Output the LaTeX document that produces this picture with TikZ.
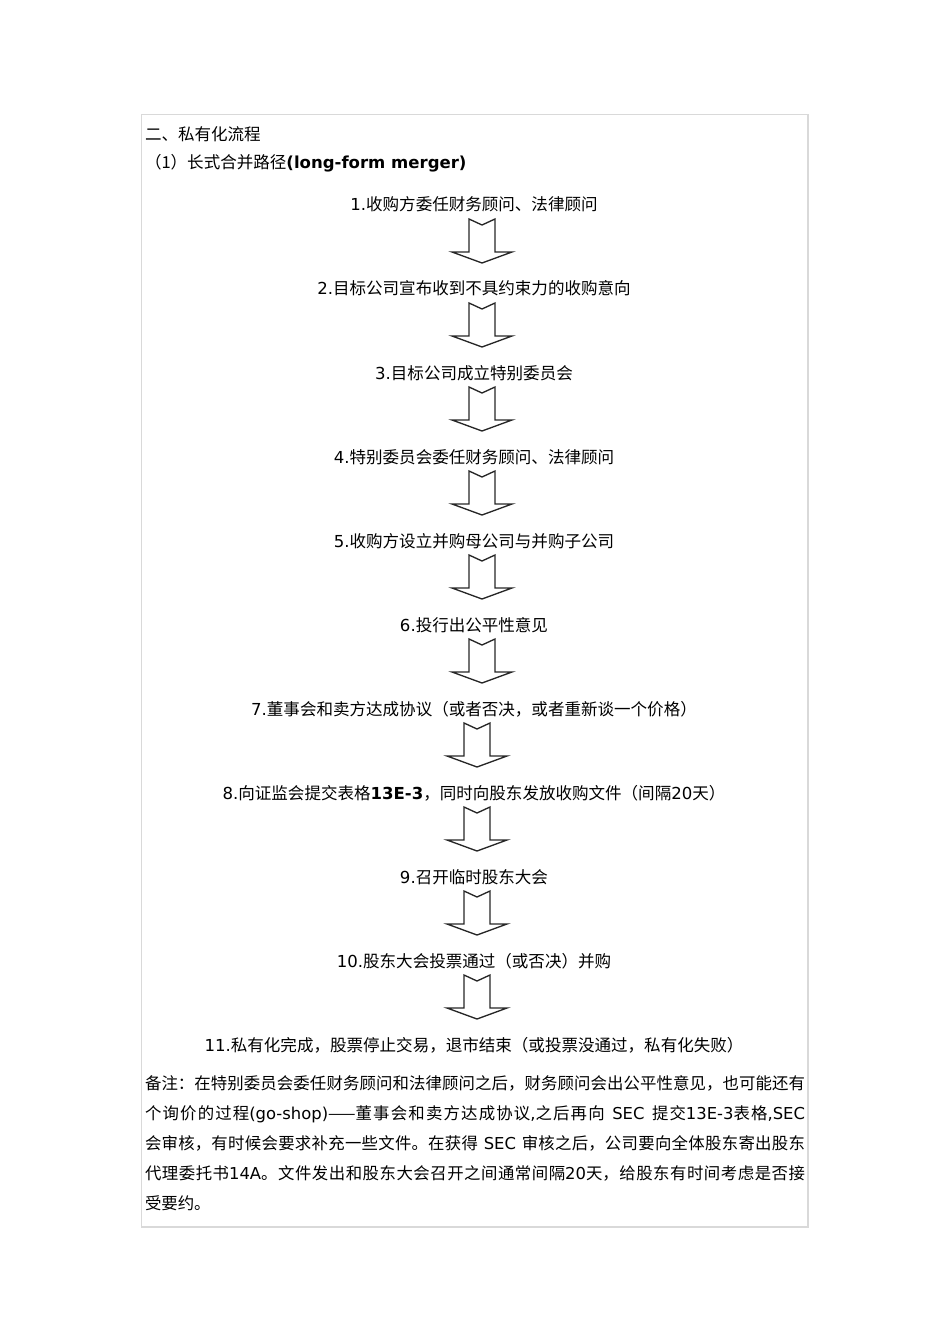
\documentclass[tikz,border=0pt]{standalone}
\usepackage{fontspec}
\setmainfont{Noto Sans CJK SC}
\newfontfamily\vd{DejaVu Sans}
\usetikzlibrary{positioning,calc}
\definecolor{FrameGray}{HTML}{D9D9D9}
\definecolor{ArrowGray}{HTML}{262626}
\newcommand{\lat}[1]{{\vd #1}}
\XeTeXlinebreaklocale "zh"
\XeTeXlinebreakskip=0pt plus 1pt
\tikzset{hollowdown/.pic={
  \draw[arrowline] (-13,-22) -- (0,-16) -- (13,-22) -- (13,11) -- (30,11)
    -- (0,22) -- (-30,11) -- (-13,11) -- cycle;
}}

\begin{document}
\begin{tikzpicture}[x=0.75pt,y=-0.75pt, node distance=48pt, every node/.style={font=\fontsize{12.4}{22.5}\selectfont,inner sep=0pt,outer sep=0pt}, stepbox/.style={text height=12pt,text depth=3pt}, headline/.style={anchor=west}, arrowline/.style={draw=ArrowGray,line width=1pt,line join=miter}]
\useasboundingbox (0,0) rectangle (950,1344);
\draw[FrameGray,line width=0.8pt] (141.5,114.5) rectangle (808,1227);
% headings
\node[headline] (h1) at (145,134) {二、私有化流程};
\node[headline] (h2) at (145,163) {（1）长式合并路径{\vd\bfseries(long-form merger)}};
% steps
\node[stepbox] (s1) at (474,205) {\lat{1.}收购方委任财务顾问、法律顾问};
\node[stepbox,below=of s1] (s2) {\lat{2.}目标公司宣布收到不具约束力的收购意向};
\node[stepbox,below=of s2] (s3) {\lat{3.}目标公司成立特别委员会};
\node[stepbox,below=of s3] (s4) {\lat{4.}特别委员会委任财务顾问、法律顾问};
\node[stepbox,below=of s4] (s5) {\lat{5.}收购方设立并购母公司与并购子公司};
\node[stepbox,below=of s5] (s6) {\lat{6.}投行出公平性意见};
\node[stepbox,below=of s6] (s7) {\lat{7.}董事会和卖方达成协议（或者否决，或者重新谈一个价格）};
\node[stepbox,below=of s7] (s8) {\lat{8.}向证监会提交表格{\vd\bfseries 13E-3}，同时向股东发放收购文件（间隔\lat{20}天）};
\node[stepbox,below=of s8] (s9) {\lat{9.}召开临时股东大会};
\node[stepbox,below=of s9] (s10) {\lat{10.}股东大会投票通过（或否决）并购};
\node[stepbox,below=of s10] (s11) {\lat{11.}私有化完成，股票停止交易，退市结束（或投票没通过，私有化失败）};
% hollow arrows
\foreach \i/\j/\dx in {1/2/8,2/3/8,3/4/8,4/5/8,5/6/8,6/7/8,7/8/3,8/9/3,9/10/3,10/11/3}
  \path ($(s\i)!0.5!(s\j)$) ++(\dx,-6) pic{hollowdown};
% remark
\node[anchor=north west,text width=495pt,align=justify,font=\fontsize{12.3}{22.5}\selectfont] (note) at (145,1076) {\parindent=0pt\noindent 备注：在特别委员会委任财务顾问和法律顾问之后，财务顾问会出公平性意见，也可能还有\linebreak
个询价的过程\lat{(go-shop)}——董事会和卖方达成协议\lat{,}之后再向\lat{ SEC }提交\lat{13E-3}表格\lat{,SEC}\linebreak
会审核，有时候会要求补充一些文件。在获得\lat{ SEC }审核之后，公司要向全体股东寄出股东\linebreak
代理委托书\lat{14A}。文件发出和股东大会召开之间通常间隔\lat{20}天，给股东有时间考虑是否接\linebreak
受要约。};
\end{tikzpicture}
\end{document}
